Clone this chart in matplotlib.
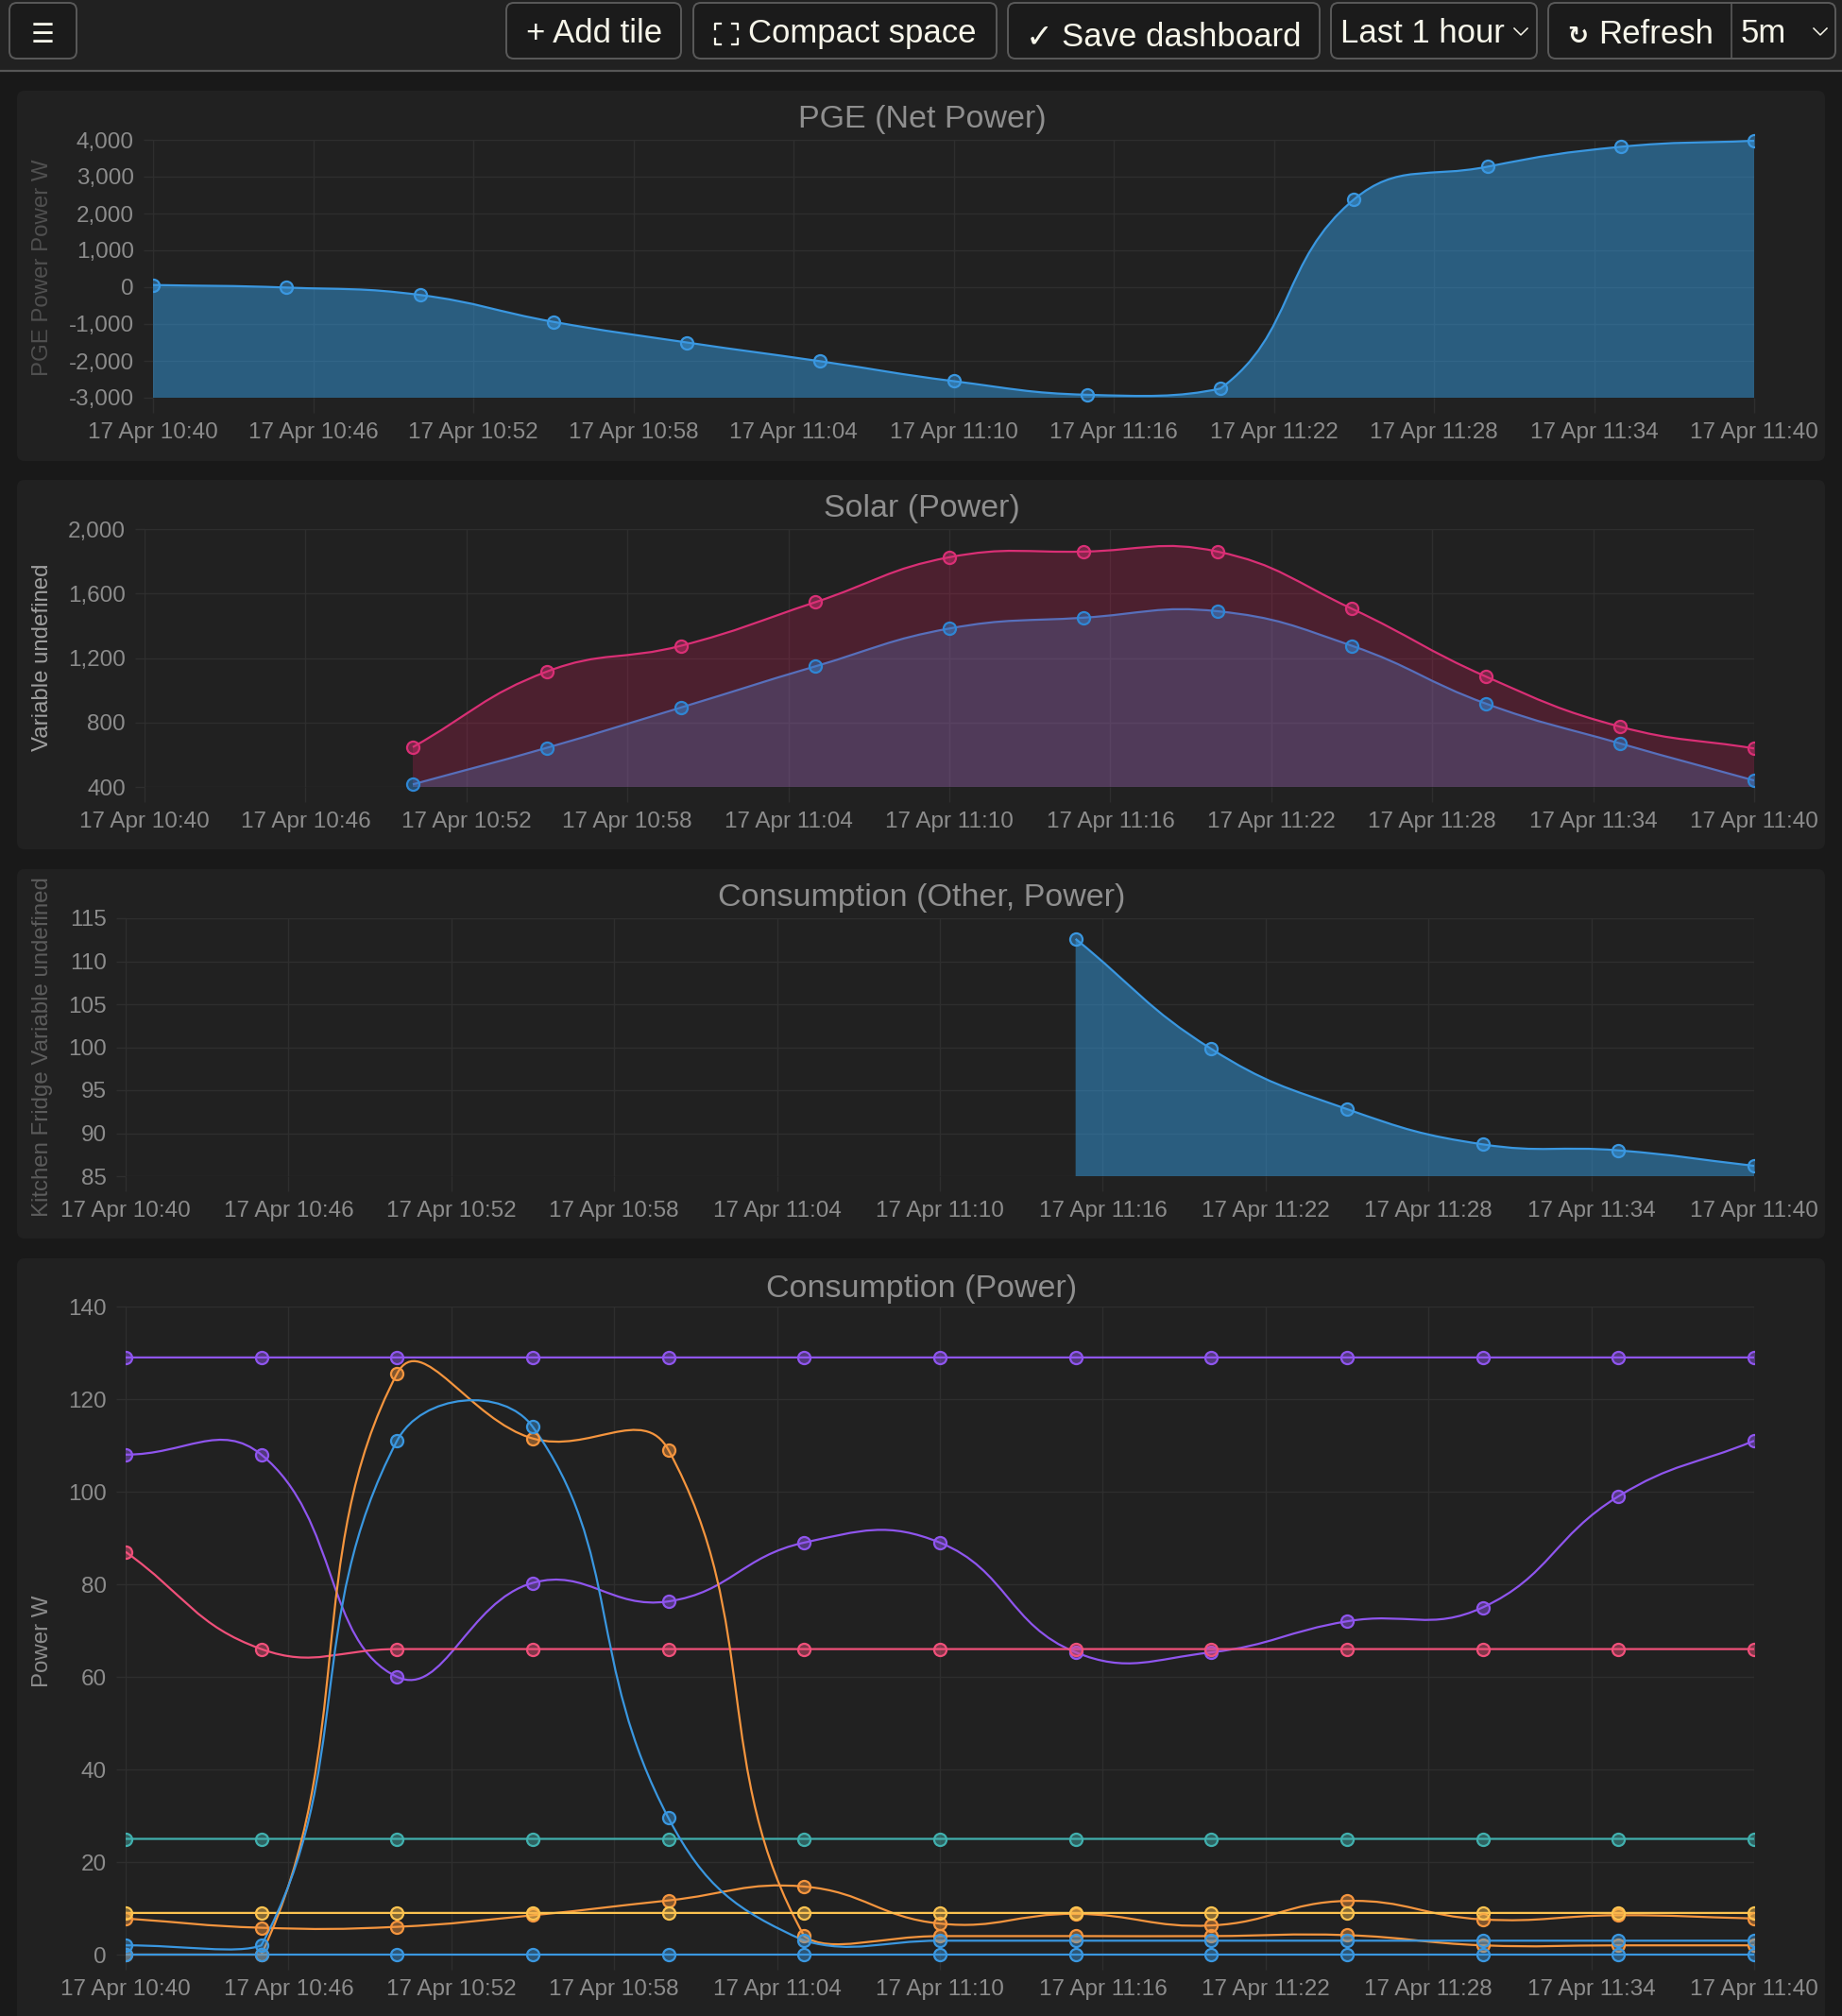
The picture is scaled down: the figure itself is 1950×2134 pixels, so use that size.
#dashboard screenshot with four power charts

import matplotlib
matplotlib.use('Agg')
import matplotlib.pyplot as plt
from matplotlib.path import Path
from matplotlib.patches import PathPatch, Rectangle, FancyBboxPatch
from matplotlib.colors import to_rgba
from matplotlib.transforms import Bbox, TransformedBbox

plt.rcParams['font.family'] = ['Liberation Sans', 'DejaVu Sans']

W = 1950
H = 2134

#minutes after 10:40, one sample every 5 minutes
minutes = [0, 5, 10, 15, 20, 25, 30, 35, 40, 45, 50, 55, 60]
tick_minutes = [0, 6, 12, 18, 24, 30, 36, 42, 48, 54, 60]
tick_labels = ['17 Apr 10:40', '17 Apr 10:46', '17 Apr 10:52', '17 Apr 10:58', '17 Apr 11:04', '17 Apr 11:10',
               '17 Apr 11:16', '17 Apr 11:22', '17 Apr 11:28', '17 Apr 11:34', '17 Apr 11:40']

pge_net = [60, -10, -210, -940, -1500, -2010, -2550, -2920, -2750, 2380, 3270, 3810, 3975]
pge_ticks = [-3000, -2000, -1000, 0, 1000, 2000, 3000, 4000]

solar_minutes = [10, 15, 20, 25, 30, 35, 40, 45, 50, 55, 60]
solar_pink = [647, 1116, 1276, 1546, 1825, 1860, 1860, 1506, 1085, 774, 639]
solar_blue = [416, 643, 893, 1148, 1383, 1450, 1490, 1276, 917, 670, 440]
solar_ticks = [400, 800, 1200, 1600, 2000]

fridge_minutes = [35, 40, 45, 50, 55, 60]
fridge = [112.6, 99.8, 92.8, 88.7, 88.0, 86.2]
fridge_ticks = [85, 90, 95, 100, 105, 110, 115]

cons_purple_flat = [129] * 13
cons_purple = [108, 108, 60, 80.3, 76.3, 89, 89, 65.3, 65.3, 72, 75, 99, 111]
cons_pink = [87, 66, 66, 66, 66, 66, 66, 66, 66, 66, 66, 66, 66]
cons_teal = [25] * 13
cons_orange_big = [0, 0, 125.5, 111.5, 109, 4, 4, 4, 4, 4.2, 2, 2, 2]
cons_orange_low = [7.8, 5.8, 6, 8.5, 11.7, 14.7, 6.7, 8.8, 6.3, 11.6, 7.6, 8.5, 7.8]
cons_yellow = [9] * 13
cons_blue_big = [2, 2, 111, 114, 29.5, 3, 3, 3, 3, 3, 3, 3, 3]
cons_blue_zero = [0] * 13
cons_ticks = [0, 20, 40, 60, 80, 100, 120, 140]

BLUE = '#3a97e0'
PINK = '#d92f75'
PURPLE = '#8f55ee'
RED = '#f0507a'
TEAL = '#41b0ae'
ORANGE = '#f5953e'
YELLOW = '#fcc350'

GRID = '#2e2e2e'
TICK = '#8c8c8c'
TITLE = '#8f8f8f'
CARD = '#212121'
PAGE = '#191919'
TENSION = 0.44


def bezier_path(xs, ys, sx, sy, ylim, base=None):
    # same spline chart.js uses, distances measured in pixels
    n = len(xs)
    nxt = []
    prv = []
    for i in range(n):
        x0, y0 = (xs[i - 1], ys[i - 1]) if i > 0 else (xs[i], ys[i])
        x1, y1 = xs[i], ys[i]
        x2, y2 = (xs[i + 1], ys[i + 1]) if i < n - 1 else (xs[i], ys[i])
        d01 = ((sx * (x1 - x0)) ** 2 + (sy * (y1 - y0)) ** 2) ** 0.5
        d12 = ((sx * (x2 - x1)) ** 2 + (sy * (y2 - y1)) ** 2) ** 0.5
        tot = d01 + d12
        s01 = d01 / tot if tot > 0 else 0
        s12 = d12 / tot if tot > 0 else 0
        fa = TENSION * s01
        fb = TENSION * s12
        py = min(max(y1 - fa * (y2 - y0), ylim[0]), ylim[1])
        ny = min(max(y1 + fb * (y2 - y0), ylim[0]), ylim[1])
        prv.append((x1 - fa * (x2 - x0), py))
        nxt.append((x1 + fb * (x2 - x0), ny))
    verts = [(xs[0], ys[0])]
    codes = [Path.MOVETO]
    for i in range(n - 1):
        verts += [nxt[i], prv[i + 1], (xs[i + 1], ys[i + 1])]
        codes += [Path.CURVE4] * 3
    if base is not None:
        verts += [(xs[-1], base), (xs[0], base), (xs[0], base)]
        codes += [Path.LINETO, Path.LINETO, Path.CLOSEPOLY]
    return Path(verts, codes)


def make_axes(left, right, top, bottom, ylim, yticks):
    ax = fig.add_axes([left / W, 1 - bottom / H, (right - left) / W, (bottom - top) / H])
    ax.set_facecolor('none')
    ax.set_xlim(0, 60)
    ax.set_ylim(ylim)
    ax.set_xticks(tick_minutes)
    ax.set_xticklabels(tick_labels)
    ax.set_yticks(yticks)
    ax.set_yticklabels([format(v, ',') for v in yticks])
    ax.grid(True, color=GRID, lw=1.0)
    ax.set_axisbelow(True)
    ax.tick_params(axis='x', length=11.5, width=1.0, color=GRID, labelcolor=TICK, labelsize=17.5, pad=7.5)
    ax.tick_params(axis='y', length=7.5, width=1.0, color=GRID, labelcolor=TICK, labelsize=17.5, pad=7)
    for s in ax.spines.values():
        s.set_visible(False)
    ax.sx = (right - left) / 60.0
    ax.sy = (bottom - top) / float(ylim[1] - ylim[0])
    # marks are cut at the left and right edge only, not top and bottom
    ax.clip = TransformedBbox(Bbox([[0, -0.1], [1, 1.1]]), ax.transAxes)
    return ax


def draw_series(ax, xs, ys, color, fill=None, fill_alpha=0.47):
    ylim = ax.get_ylim()
    if fill:
        ax.add_patch(PathPatch(bezier_path(xs, ys, ax.sx, ax.sy, ylim, base=ylim[0]),
                               facecolor=to_rgba(fill, fill_alpha), edgecolor='none'))
    curve = ax.add_patch(PathPatch(bezier_path(xs, ys, ax.sx, ax.sy, ylim), facecolor='none', edgecolor=color, lw=1.6))
    curve.set_clip_box(ax.clip)
    curve.set_clip_path(None)
    pts, = ax.plot(xs, ys, ls='none', marker='o', ms=9.4, mew=1.6, mec=color, mfc=to_rgba(color, 0.45))
    pts.set_clip_box(ax.clip)
    pts.set_clip_path(None)


fig = plt.figure(figsize=(W / 100.0, H / 100.0), dpi=100, facecolor=PAGE)

#page background, cards and the toolbar live in one pixel-sized axes
bg = fig.add_axes([0, 0, 1, 1])
bg.set_xlim(0, W)
bg.set_ylim(H, 0)
bg.axis('off')
bg.add_patch(Rectangle((0, 0), W, 74, facecolor=CARD, edgecolor='none'))
bg.plot([0, W], [75, 75], color='#565656', lw=1.6)

cards = [(96, 488), (508, 899), (920, 1311), (1332, 2150)]
for c_top, c_bot in cards:
    bg.add_patch(FancyBboxPatch((18, c_top), 1914, c_bot - c_top, boxstyle='round,pad=0,rounding_size=8',
                                facecolor=CARD, edgecolor='none'))

buttons = [(10, 81), (536, 721), (734, 1055), (1067, 1397), (1409, 1627), (1639, 1943)]
for b_left, b_right in buttons:
    bg.add_patch(FancyBboxPatch((b_left, 3), b_right - b_left, 59, boxstyle='round,pad=0,rounding_size=8',
                                facecolor='#1b1b1b', edgecolor='#5a5a5a', lw=1.4))
bg.plot([1833, 1833], [4, 61], color='#5a5a5a', lw=1.2)

BTN = '#f7f6ea'
bg.text(45, 37, '\u2630', color=BTN, fontsize=20, ha='center', va='center', family='DejaVu Sans', fontweight='bold')
bg.text(557, 45, '+ Add tile', color=BTN, fontsize=25, ha='left', va='baseline')
bg.text(792, 45, 'Compact space', color=BTN, fontsize=25, ha='left', va='baseline')
bg.text(1086, 49, '\u2713', color=BTN, fontsize=25, ha='left', va='baseline', family='DejaVu Sans', fontweight='bold')
bg.text(1124, 49, 'Save dashboard', color=BTN, fontsize=25, ha='left', va='baseline')
bg.text(1419, 45, 'Last 1 hour', color=BTN, fontsize=25, ha='left', va='baseline')
bg.text(1659, 46, '\u21bb', color=BTN, fontsize=19, ha='left', va='baseline', family='DejaVu Sans', fontweight='bold')
bg.text(1692, 46, 'Refresh', color=BTN, fontsize=25, ha='left', va='baseline')
bg.text(1843, 45, '5m', color=BTN, fontsize=25, ha='left', va='baseline')

#compact space icon, four corners
for cx, cy, dx, dy in [(757, 25, 1, 1), (781, 25, -1, 1), (757, 47, 1, -1), (781, 47, -1, -1)]:
    bg.plot([cx + dx * 6, cx, cx], [cy, cy, cy + dy * 6], color=BTN, lw=1.6)
#dropdown arrows
for cx in (1610, 1927):
    bg.plot([cx - 7, cx, cx + 7], [30, 37, 30], color=BTN, lw=1.1)

titles = [('PGE (Net Power)', 127), ('Solar (Power)', 539), ('Consumption (Other, Power)', 951), ('Consumption (Power)', 1364)]
for t, y in titles:
    bg.text(976, y, t, color=TITLE, fontsize=24.5, ha='center', va='center')

ylabels = [('PGE Power Power W', 283, '#505050'), ('Variable undefined', 696, '#a0a0a0'),
           ('Kitchen Fridge Variable undefined', 1108, '#5c5c5c'), ('Power W', 1737, '#8c8c8c')]
for t, y, col in ylabels:
    bg.text(45, y, t, color=col, fontsize=17.3, rotation=90, ha='center', va='center')

#PGE
ax1 = make_axes(162, 1857, 148, 421, (-3000, 4000), pge_ticks)
draw_series(ax1, minutes, pge_net, BLUE, fill='#36a2eb')

#Solar, blue goes first since the pink fill sits on top of it
ax2 = make_axes(153, 1857, 560, 833, (400, 2000), solar_ticks)
draw_series(ax2, solar_minutes, solar_blue, '#2f86d4', fill='#36a2eb', fill_alpha=0.27)
draw_series(ax2, solar_minutes, solar_pink, PINK, fill='#e91e63', fill_alpha=0.22)

#Fridge
ax3 = make_axes(133, 1857, 972, 1245, (85, 115), fridge_ticks)
draw_series(ax3, fridge_minutes, fridge, BLUE, fill='#36a2eb')

#Consumption
ax4 = make_axes(133, 1857, 1383, 2069, (0, 140), cons_ticks)
draw_series(ax4, minutes, cons_purple_flat, PURPLE)
draw_series(ax4, minutes, cons_purple, PURPLE)
draw_series(ax4, minutes, cons_pink, RED)
draw_series(ax4, minutes, cons_teal, TEAL)
draw_series(ax4, minutes, cons_orange_big, ORANGE)
draw_series(ax4, minutes, cons_orange_low, ORANGE)
draw_series(ax4, minutes, cons_yellow, YELLOW)
draw_series(ax4, minutes, cons_blue_big, BLUE)
draw_series(ax4, minutes, cons_blue_zero, BLUE)

fig.savefig('out.png', dpi=100, facecolor=PAGE)
